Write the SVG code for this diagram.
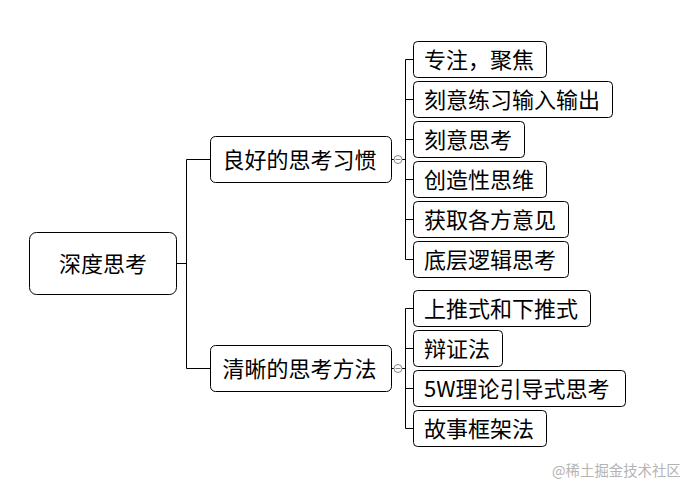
<svg xmlns="http://www.w3.org/2000/svg" width="698" height="491" viewBox="0 0 698 491">
<style>
.box{fill:#fff;stroke:#000;stroke-width:1}
.t{font-family:"Noto Sans CJK SC","Microsoft YaHei",sans-serif;font-size:22px;fill:#000}
.c{fill:none;stroke:#000;stroke-width:1}
.fold{fill:#fff;stroke:#888;stroke-width:1}
.wm{font-family:"Noto Sans CJK SC",sans-serif;font-size:14.4px;fill:#b4b4b4}
</style>
<rect width="698" height="491" fill="#fff"/>
<g id="connectors">
<path class="c" d="M176.5 263.5H186.5M186.5 159.5V368.5M186.5 159.5H210.5M186.5 368.5H210.5"/>
<path class="c" d="M391.5 159.5H394M402 159.5H405.5M405.5 59.5V259.5M405.5 59.5H413.5M405.5 99.5H413.5M405.5 139.5H413.5M405.5 179.5H413.5M405.5 219.5H413.5M405.5 259.5H413.5"/>
<path class="c" d="M391.5 368.5H394M402 368.5H405.5M405.5 308.5V428.5M405.5 308.5H413.5M405.5 348.5H413.5M405.5 388.5H413.5M405.5 428.5H413.5"/>
<g id="fold1"><circle class="fold" cx="398" cy="159.5" r="4"/><path d="M395.5 159.5H400.5" stroke="#888"/></g>
<g id="fold2"><circle class="fold" cx="398" cy="368.5" r="4"/><path d="M395.5 368.5H400.5" stroke="#888"/></g>
</g>
<g id="root"><rect class="box" x="29.5" y="232.5" width="147" height="62" rx="7"/><text class="t" x="103" y="271.5" text-anchor="middle">深度思考</text></g>
<g id="b1"><rect class="box" x="210.5" y="136.5" width="181" height="46" rx="5"/><text class="t" x="222.5" y="167.5">良好的思考习惯</text></g>
<g id="b2"><rect class="box" x="210.5" y="345.5" width="181" height="46" rx="5"/><text class="t" x="222.5" y="376.5">清晰的思考方法</text></g>
<g id="l1"><rect class="box" x="413.5" y="41.5" width="133" height="36" rx="4"/><text class="t" x="424" y="67.5">专注，聚焦</text></g>
<g id="l2"><rect class="box" x="413.5" y="81.5" width="199" height="36" rx="4"/><text class="t" x="424" y="107.5">刻意练习输入输出</text></g>
<g id="l3"><rect class="box" x="413.5" y="121.5" width="111" height="36" rx="4"/><text class="t" x="424" y="147.5">刻意思考</text></g>
<g id="l4"><rect class="box" x="413.5" y="161.5" width="133" height="36" rx="4"/><text class="t" x="424" y="187.5">创造性思维</text></g>
<g id="l5"><rect class="box" x="413.5" y="201.5" width="155" height="36" rx="4"/><text class="t" x="424" y="227.5">获取各方意见</text></g>
<g id="l6"><rect class="box" x="413.5" y="241.5" width="155" height="36" rx="4"/><text class="t" x="424" y="267.5">底层逻辑思考</text></g>
<g id="m1"><rect class="box" x="413.5" y="290.5" width="177" height="36" rx="4"/><text class="t" x="424" y="316.5">上推式和下推式</text></g>
<g id="m2"><rect class="box" x="413.5" y="330.5" width="89" height="36" rx="4"/><text class="t" x="424" y="356.5">辩证法</text></g>
<g id="m3"><rect class="box" x="413.5" y="370.5" width="212" height="36" rx="4"/><text class="t" x="424" y="396.5">5W理论引导式思考</text></g>
<g id="m4"><rect class="box" x="413.5" y="410.5" width="133" height="36" rx="4"/><text class="t" x="424" y="436.5">故事框架法</text></g>
<text class="wm" x="552" y="476">@稀土掘金技术社区</text>
</svg>
